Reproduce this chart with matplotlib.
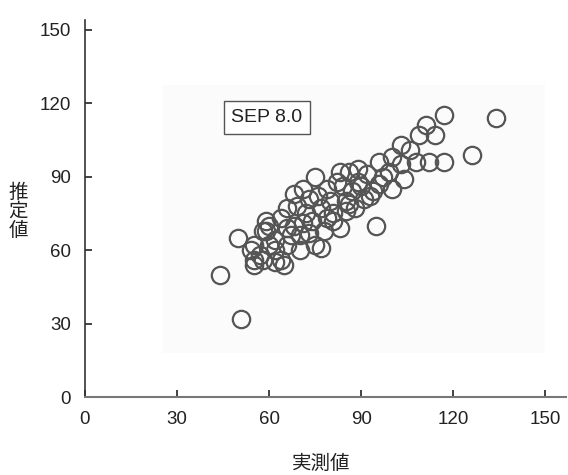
import matplotlib
matplotlib.use("Agg")
import matplotlib.pyplot as plt
from matplotlib.patches import Rectangle

plt.rcParams['font.family'] = ['Liberation Sans', 'Noto Sans CJK JP', 'DejaVu Sans']

# measured (x) vs estimated (y)
measured = [44, 51, 50, 134, 126, 117, 95,
            109, 114, 111, 103, 112, 117, 108, 103, 104, 96, 89, 89, 96, 85, 91,
            54, 55, 55, 59, 62, 64, 62, 65, 70, 71, 75, 69, 79, 83, 86,
            75, 83, 79, 71, 73, 68, 59, 66, 81, 87, 86,
            58, 64, 81, 92, 99, 94, 100, 106, 97, 77, 74, 78, 67, 60, 57,
            66, 72, 80, 84, 88, 93, 100, 60, 68, 76, 82, 90, 70, 62, 66,
            73, 77, 85, 55, 58]
estimated = [50, 32, 65, 114, 99, 115, 70,
             107, 107, 111, 103, 96, 96, 96, 95, 89, 96, 93, 88, 87, 80, 81,
             60, 54, 56, 68, 64, 73, 55, 54, 60, 71, 62, 78, 73, 69, 79,
             90, 92, 85, 85, 81, 83, 72, 69, 75, 84, 92,
             68, 56, 72, 91, 92, 84, 98, 101, 90, 77, 72, 68, 66, 62, 58,
             77, 75, 80, 86, 77, 82, 85, 70, 70, 82, 88, 86, 66, 60, 62,
             67, 61, 76, 62, 56]

x_ticks = [0, 30, 60, 90, 120, 150]
y_ticks = [0, 30, 60, 90, 120, 150]
x_label = "実測値"
y_label = "推\n定\n値"
annotation = "SEP 8.0"

fig = plt.figure(figsize=(5.68, 4.75), dpi=100)
# faint scanned background patch
fig.patches.append(Rectangle((0.287, 0.257), 0.6725, 0.564, transform=fig.transFigure,
                             facecolor='#fbfbfb', edgecolor='none', zorder=-5))
ax = fig.add_axes([0.1496, 0.1642, 0.8469, 0.7938])
ax.set_facecolor('none')
ax.set_zorder(2)

ax.plot(measured, estimated, linestyle='none', marker='o', ms=12.5,
        mfc='none', mec='#555555', mew=1.6)

ax.set_xlim(0, 156.8)
ax.set_ylim(0, 154)
ax.set_xticks(x_ticks)
ax.set_yticks(y_ticks)
ax.tick_params(direction='in', length=5, width=1.2, color='#222222',
               labelsize=13.5, labelcolor='#222222', pad=10)

for s in ['top', 'right']:
    ax.spines[s].set_visible(False)
ax.spines['left'].set_color('#333333')
ax.spines['bottom'].set_color('#777777')
ax.spines['left'].set_linewidth(1.2)
ax.spines['bottom'].set_linewidth(1.5)

fig.text(321/568, 1 - 464/475, x_label, ha='center', va='center',
         fontsize=14, color='#222222')
fig.text(18/568, 1 - 212/475, y_label, ha='center', va='center',
         fontsize=14, color='#222222', linespacing=1.1)

ax.text(59.3, 114.2, annotation, ha='center', va='center', fontsize=14,
        color='#222222', zorder=5,
        bbox=dict(boxstyle='square,pad=0.4', facecolor='white',
                  edgecolor='#555555', linewidth=1.0))

fig.savefig('out.png', dpi=100)
